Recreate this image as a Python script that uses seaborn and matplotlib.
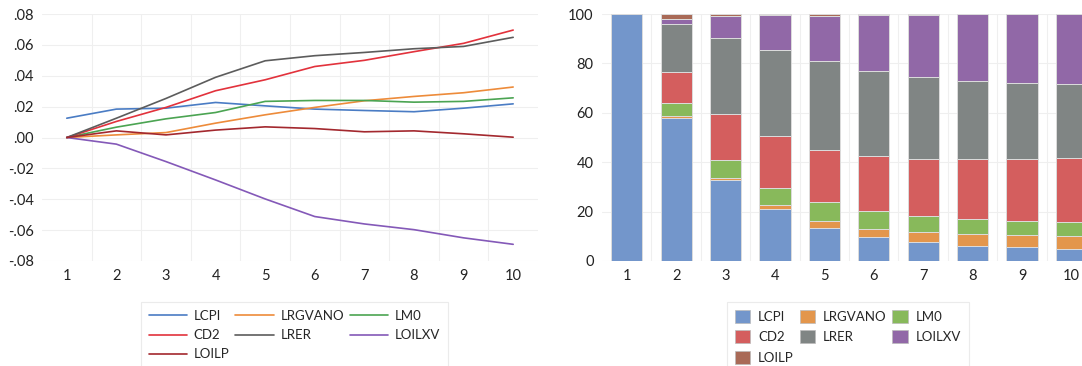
import seaborn as sns
import matplotlib.pyplot as plt
import matplotlib.patches as mpatches
from matplotlib.ticker import FuncFormatter
import pandas as pd
import numpy as np

# Horizons 1..10
steps = list(range(1, 11))
variables = ["LCPI", "LRGVANO", "LM0", "CD2", "LRER", "LOILXV", "LOILP"]

# Left panel: impulse responses
resp_lcpi = [0.0125, 0.0184, 0.0190, 0.0227, 0.0205, 0.0184, 0.0175, 0.0167, 0.0190, 0.0218]
resp_lrgvano = [0.0, 0.0017, 0.0032, 0.0093, 0.0147, 0.0195, 0.0238, 0.0266, 0.0290, 0.0327]
resp_lm0 = [0.0, 0.0067, 0.0121, 0.0162, 0.0234, 0.0240, 0.0240, 0.0229, 0.0234, 0.0257]
resp_cd2 = [0.0, 0.0104, 0.0195, 0.0303, 0.0374, 0.0460, 0.0500, 0.0556, 0.0610, 0.0696]
resp_lrer = [0.0, 0.0125, 0.0253, 0.0390, 0.0497, 0.0530, 0.0551, 0.0575, 0.0590, 0.0649]
resp_loilxv = [0.0, -0.0043, -0.0156, -0.0275, -0.0398, -0.0512, -0.0560, -0.0597, -0.0650, -0.0692]
resp_loilp = [0.0, 0.0043, 0.0017, 0.0048, 0.0069, 0.0058, 0.0037, 0.0043, 0.0024, 0.0002]

# Right panel: variance decomposition shares (%)
vd_lcpi = [100.0, 58.0, 32.9, 20.9, 13.5, 9.7, 7.6, 6.2, 5.5, 5.0]
vd_lrgvano = [0.0, 0.7, 0.8, 1.9, 2.7, 3.4, 4.0, 4.6, 5.0, 5.3]
vd_lm0 = [0.0, 5.3, 7.3, 6.9, 7.7, 7.1, 6.8, 6.2, 5.7, 5.5]
vd_cd2 = [0.0, 12.4, 18.4, 20.8, 20.9, 22.2, 23.0, 24.2, 25.0, 26.0]
vd_lrer = [0.0, 19.4, 30.7, 34.9, 36.0, 34.4, 33.0, 31.7, 30.7, 29.7]
vd_loilxv = [0.0, 2.0, 9.1, 14.1, 18.5, 22.7, 25.3, 27.1, 28.0, 28.4]
vd_loilp = [0.0, 2.2, 0.8, 0.5, 0.7, 0.5, 0.3, 0.2, 0.1, 0.1]

line_colors = ["#4a7cc4", "#ed8b3a", "#4ba452", "#e2323c", "#5c5c5c", "#8459b8", "#a3282e"]
bar_colors = ["#7396cb", "#e3964c", "#88b95b", "#d45e5e", "#808584", "#9168a7", "#a96a57"]

responses = [resp_lcpi, resp_lrgvano, resp_lm0, resp_cd2, resp_lrer, resp_loilxv, resp_loilp]
shares = [vd_lcpi, vd_lrgvano, vd_lm0, vd_cd2, vd_lrer, vd_loilxv, vd_loilp]

df = pd.DataFrame({
    "step": np.tile(steps, len(variables)),
    "value": np.concatenate(responses),
    "variable": np.repeat(variables, len(steps)),
})

sns.set_theme(style="white")
plt.rcParams["font.family"] = ["Lato", "DejaVu Sans"]

fig = plt.figure(figsize=(10.82, 3.66), dpi=100)
ax1 = fig.add_axes([0.0388, 0.2869, 0.4584, 0.6748])
ax2 = fig.add_axes([0.5564, 0.2869, 0.4566, 0.6748])

grid_kw = dict(color="#efefef", lw=0.8, zorder=0)

# ---- left: line chart
sns.lineplot(data=df, x="step", y="value", hue="variable", hue_order=variables,
             palette=line_colors, linewidth=1.2, ax=ax1, legend=False)
ax1.set_xlim(0.5, 10.5)
ax1.set_ylim(-0.08, 0.08)
ax1.set_yticks(np.arange(-0.08, 0.081, 0.02))
ax1.yaxis.set_major_formatter(FuncFormatter(lambda v, p: f"{v:.2f}".replace("0.", ".")))
ax1.set_xticks(steps)

# ---- right: stacked bars
bottom = np.zeros(len(steps))
for name, vals, col in zip(variables, shares, bar_colors):
    ax2.bar(steps, vals, bottom=bottom, width=0.63, color=col,
            edgecolor="#dcdcdc", linewidth=0.7, zorder=2, label=name)
    bottom += np.array(vals)
ax2.set_xlim(0.5, 10.5)
ax2.set_ylim(0, 100)
ax2.set_yticks(range(0, 101, 20))
ax2.set_xticks(steps)

for ax in (ax1, ax2):
    for s in ax.spines.values():
        s.set_visible(False)
    ax.set_xlabel("")
    ax.set_ylabel("")
    ax.tick_params(axis="both", labelsize=10.5, length=0, colors="#222222", pad=6)
    for yv in ax.get_yticks():
        ax.axhline(yv, **grid_kw)
    for xv in np.arange(1.5, 10.5, 1.0):
        ax.axvline(xv, **grid_kw)

# legends, row-major order like the original (matplotlib fills columns)
order = [0, 3, 6, 1, 4, 2, 5]
line_handles = [plt.Line2D([], [], color=line_colors[i], lw=1.2) for i in order]
bar_handles = [mpatches.Patch(facecolor=bar_colors[i], edgecolor="#bbbbbb", lw=0.5) for i in order]
labels = [variables[i] for i in order]

leg_kw = dict(loc="upper left", ncol=3, fontsize=9.5, frameon=True, fancybox=False,
              edgecolor="#e6e6e6", borderaxespad=0, labelspacing=0.55, borderpad=0.6)
l1 = fig.legend(line_handles, labels, bbox_to_anchor=(0.1303, 0.1749),
                handlelength=2.9, handletextpad=0.5, columnspacing=0.45, **leg_kw)
l2 = fig.legend(bar_handles, labels, bbox_to_anchor=(0.6719, 0.1749),
                handlelength=1.15, handleheight=1.15, handletextpad=0.6, columnspacing=0.45, **leg_kw)
for l in (l1, l2):
    l.get_frame().set_linewidth(0.8)

fig.savefig("out.png", dpi=100)
